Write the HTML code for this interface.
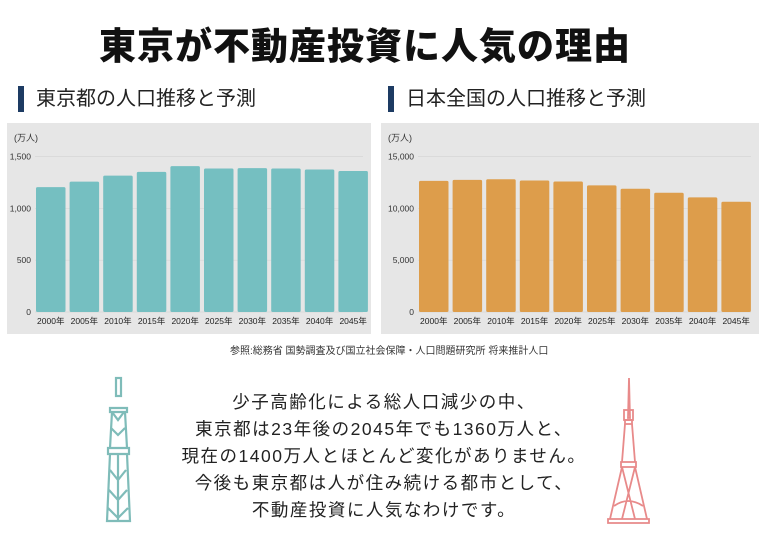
<!DOCTYPE html>
<html><head><meta charset="utf-8"><style>
body{margin:0;width:768px;height:546px;background:#fff;font-family:"Liberation Sans","Noto Sans CJK JP",sans-serif;position:relative;overflow:hidden}
.abs{position:absolute}
h1{position:absolute;left:0;width:730px;top:16px;margin:0;text-align:center;font-size:37px;font-weight:900;color:#111;letter-spacing:1px}
.sec{position:absolute;top:86px;font-size:20px;color:#222;padding-left:12px;border-left:6px solid #1d3b63;line-height:26px}
.src{position:absolute;top:342px;left:230px;font-size:10px;color:#333}
.msg{position:absolute;left:0;width:768px;top:389px;text-align:center;font-size:17.5px;line-height:27px;color:#222;letter-spacing:1.5px}
</style></head><body>
<h1>東京が不動産投資に人気の理由</h1>
<div class="sec" style="left:18px">東京都の人口推移と予測</div>
<div class="sec" style="left:388px">日本全国の人口推移と予測</div>
<svg class="abs" style="left:0;top:0" width="768" height="546">
<g id="c1"></g>
<g id="c2"></g>
<g fill="none" stroke="#7fbcb9" stroke-width="2.2">
<rect x="116" y="378" width="5" height="18"/>
<path d="M110 408h17v4h-17zM112 412h13l2 36h-17zM112 412l6 8l6-8M111 428l7 7l7-7M108 448h21v6h-21zM110 454h17l3 67h-23zM118 454v67M110 470l8 10l8-10M109 490l9 10l9-10M108 508l10 10l10-10"/>
</g>
<g fill="none" stroke="#e88a8a" stroke-width="1.8">
<path d="M629 378l-1 40h2z"/>
<rect x="624" y="410" width="9" height="10"/><rect x="625" y="420" width="7" height="4"/>
<path d="M625 424l-3 38h13l-3-38M621 462h15v5h-15zM622 467l-12 52h37l-12-52M622 467l13 52M635 467l-13 52M608 519h41v4h-41zM614 506q14-10 29 0"/>
</g>
</svg>
<div class="src">参照:総務省 国勢調査及び国立社会保障・人口問題研究所 将来推計人口</div>
<div class="msg">少子高齢化による総人口減少の中、<br>東京都は23年後の2045年でも1360万人と、<br>現在の1400万人とほとんど変化がありません。<br>今後も東京都は人が住み続ける都市として、<br>不動産投資に人気なわけです。</div>
<script>
const years=["2000年","2005年","2010年","2015年","2020年","2025年","2030年","2035年","2040年","2045年"];
const tokyoValues=[1204,1258,1316,1352,1407,1384,1388,1384,1374,1360];
const japanValues=[12654,12750,12806,12690,12590,12212,11885,11500,11057,10635];
const tokyoTicks=[0,500,1000,1500];
const japanTicks=[0,5000,10000,15000];
const NS="http://www.w3.org/2000/svg";
function mk(g,t,a,txt){const e=document.createElementNS(NS,t);for(const k in a)e.setAttribute(k,a[k]);if(txt!==undefined)e.textContent=txt;g.appendChild(e);return e;}
function draw(id,px,pw,x0,vals,ticks,max,color,label){
 const g=document.getElementById(id);
 const bg=mk(g,'rect',{x:px,y:123,width:pw,height:211,fill:'#e6e6e6'});
 
 const yb=312,yt=156.5;const ys=v=>yb-(v/max)*(yb-yt);
 const u=mk(g,'text',{x:px+7,y:141,'font-size':9,fill:'#333'},'(万人)');
 
 ticks.forEach(t=>{const y=ys(t);
  const l=mk(g,'line',{x1:x0,x2:px+pw-8,y1:y,y2:y,stroke:'#d6d6d6','stroke-width':0.7});
  
  const tx=mk(g,'text',{x:x0-4,y:y+3,'font-size':8.5,'text-anchor':'end',fill:'#333'},t.toLocaleString('en-US'));
  });
 const step=33.6,bw=29.5;
 vals.forEach((v,i)=>{const x=x0+1+i*step;
  const r=mk(g,'rect',{x:x,y:ys(v),width:bw,height:yb-ys(v),fill:color,rx:1.5});
  
  const t=mk(g,'text',{x:x+bw/2,y:324,'font-size':8.5,'text-anchor':'middle',fill:'#222'},years[i]);
  });
}
draw('c1',7,364,35,tokyoValues,tokyoTicks,1500,'#75bfc1');
draw('c2',381,378,418,japanValues,japanTicks,15000,'#dd9d4b');
</script>
</body></html>
